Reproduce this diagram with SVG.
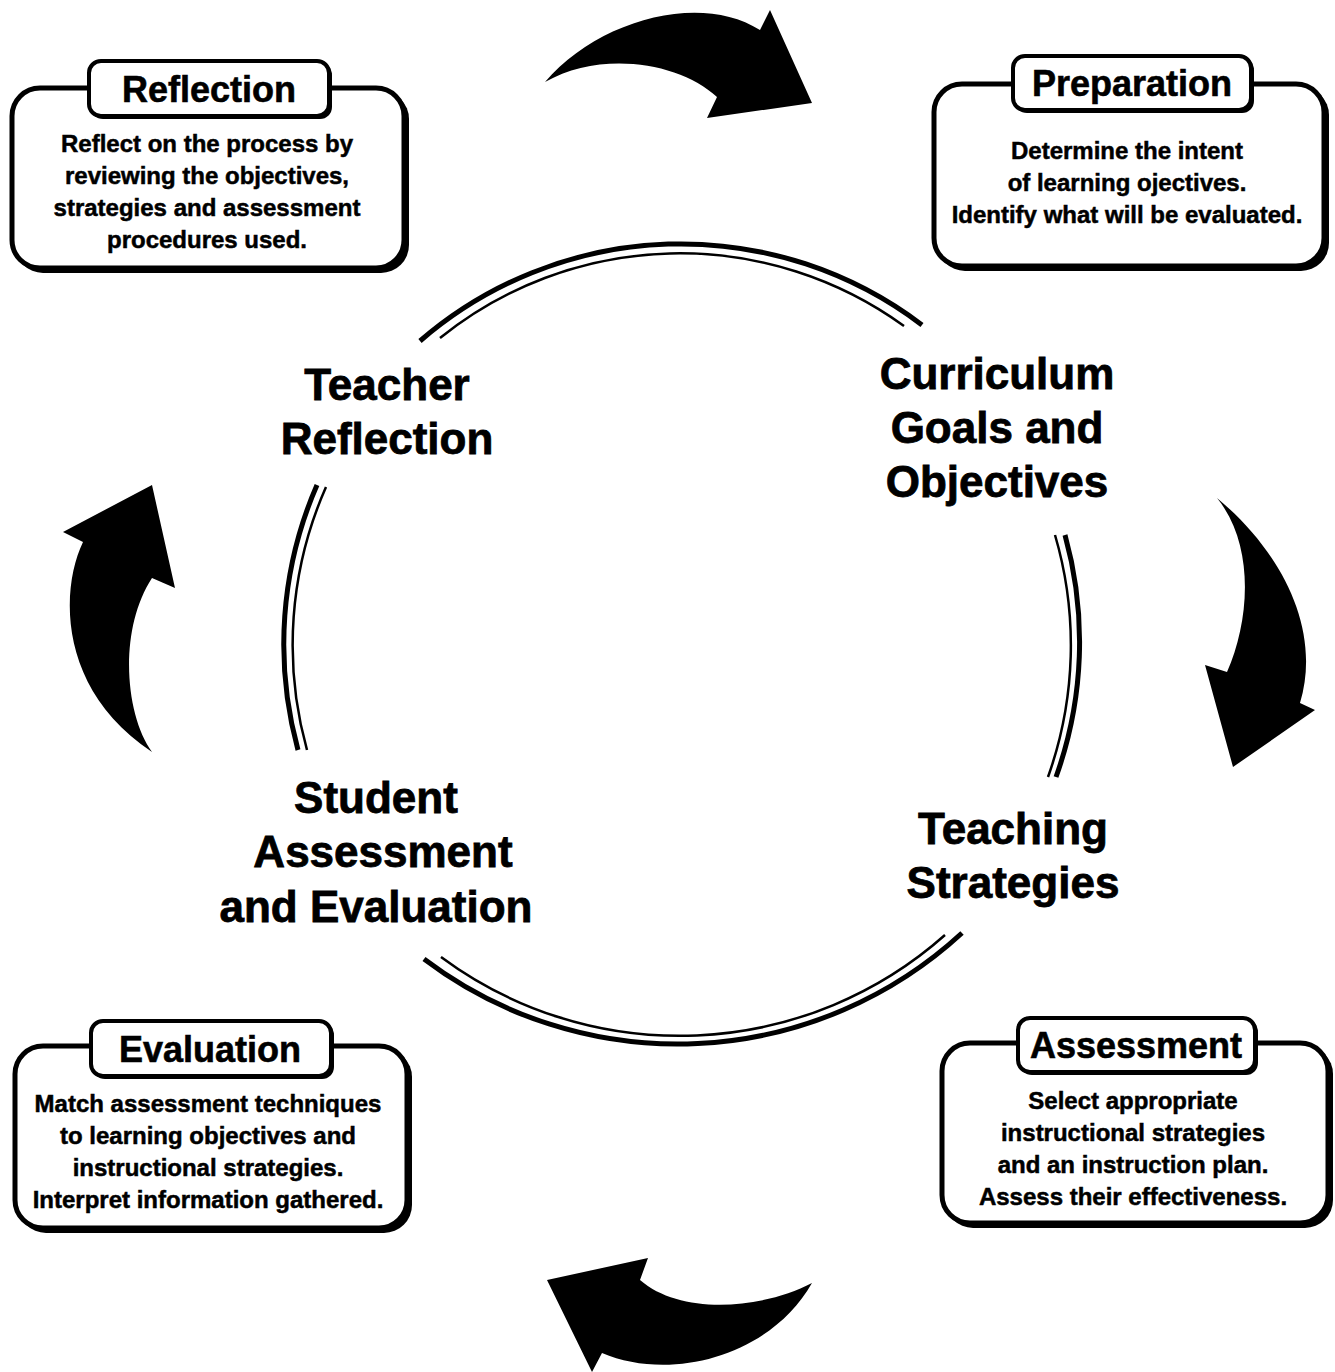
<svg xmlns="http://www.w3.org/2000/svg" width="1335" height="1372" viewBox="0 0 1335 1372">
<style>
.bg{fill:#fff}
.shadow{fill:#000}
.box{fill:#fff;stroke:#000;stroke-width:5}
.tab{fill:#fff;stroke:#000;stroke-width:4}
.title{font-family:"Liberation Sans",Arial,Helvetica,sans-serif;font-weight:bold;font-size:36px;text-anchor:middle;fill:#000;stroke:#000;stroke-width:0.6}
.body{font-family:"Liberation Sans",Arial,Helvetica,sans-serif;font-weight:bold;font-size:24px;text-anchor:middle;fill:#000;stroke:#000;stroke-width:0.5}
.big{font-family:"Liberation Sans",Arial,Helvetica,sans-serif;font-weight:bold;font-size:44px;text-anchor:middle;fill:#000;stroke:#000;stroke-width:0.8}
.arcO{fill:none;stroke:#000;stroke-width:5}
.arcI{fill:none;stroke:#000;stroke-width:2.5}
.arrow{fill:#000}
</style>
<rect class="bg" x="0" y="0" width="1335" height="1372"/>

<g id="connectors">
  <g id="cycle-arcs">
    <path class="arcO" d="M 420 341 A 399 399 0 0 1 922 325"/>
    <path class="arcI" d="M 440 338 A 382 382 0 0 1 904 326"/>
    <path class="arcO" d="M 1065 535 A 399 399 0 0 1 1056 777"/>
    <path class="arcI" d="M 1055 535 A 391 391 0 0 1 1048 777"/>
    <path class="arcO" d="M 424 959 A 420 420 0 0 0 962 933"/>
    <path class="arcI" d="M 441 957 A 400 400 0 0 0 945 935"/>
    <path class="arcO" d="M 317 485 A 399 399 0 0 0 298 750"/>
    <path class="arcI" d="M 326 487 A 391 391 0 0 0 307 750"/>
  </g>
  <g id="big-arrows">
    <path class="arrow" d="M 545 82 C 598 20 700 -8 760 30 L 770 10 L 812 103 L 707 118 L 717 97 C 680 62 600 50 545 82 Z"/>
    <path class="arrow" d="M 1217 498 C 1282 552 1322 630 1300 703 L 1315 710 L 1233 767 L 1205 665 L 1227 672 C 1250 620 1255 545 1217 498 Z"/>
    <path class="arrow" d="M 812 1283 C 770 1357 670 1382 602 1353 L 592 1372 L 547 1280 L 648 1258 L 640 1280 C 680 1315 760 1310 812 1283 Z"/>
    <path class="arrow" d="M 152 752 C 58 690 60 590 83 542 L 63 532 L 152 485 L 175 588 L 152 578 C 118 630 125 715 152 752 Z"/>
  </g>
</g>

<g id="teacher-reflection">
  <text class="big" x="387" y="400">Teacher</text>
  <text class="big" x="387" y="454">Reflection</text>
</g>
<g id="curriculum-goals">
  <text class="big" x="997" y="389">Curriculum</text>
  <text class="big" x="997" y="443">Goals and</text>
  <text class="big" x="997" y="497">Objectives</text>
</g>
<g id="teaching-strategies">
  <text class="big" x="1013" y="844">Teaching</text>
  <text class="big" x="1013" y="898">Strategies</text>
</g>
<g id="student-assessment">
  <text class="big" x="376" y="813">Student</text>
  <text class="big" x="383" y="867">Assessment</text>
  <text class="big" x="376" y="922">and Evaluation</text>
</g>

<g id="box-reflection">
  <rect class="shadow" x="15" y="91" width="394" height="182" rx="28"/>
  <rect class="box" x="12" y="88" width="392" height="180" rx="28"/>
  <rect class="shadow" x="91" y="63" width="241" height="56" rx="12"/>
  <rect class="tab" x="89" y="61" width="240" height="55" rx="12"/>
  <text class="title" x="209" y="102">Reflection</text>
  <text class="body" x="207" y="152">Reflect on the process by</text>
  <text class="body" x="207" y="184">reviewing the objectives,</text>
  <text class="body" x="207" y="216">strategies and assessment</text>
  <text class="body" x="207" y="248">procedures used.</text>
</g>

<g id="box-preparation">
  <rect class="shadow" x="937" y="87" width="392" height="184" rx="28"/>
  <rect class="box" x="934" y="84" width="390" height="182" rx="28"/>
  <rect class="shadow" x="1015" y="58" width="239" height="55" rx="12"/>
  <rect class="tab" x="1013" y="56" width="238" height="54" rx="12"/>
  <text class="title" x="1132" y="96">Preparation</text>
  <text class="body" x="1127" y="159">Determine the intent</text>
  <text class="body" x="1127" y="191">of learning ojectives.</text>
  <text class="body" x="1127" y="223">Identify what will be evaluated.</text>
</g>

<g id="box-evaluation">
  <rect class="shadow" x="18" y="1049" width="394" height="184" rx="28"/>
  <rect class="box" x="15" y="1046" width="392" height="182" rx="28"/>
  <rect class="shadow" x="93" y="1023" width="241" height="56" rx="12"/>
  <rect class="tab" x="91" y="1021" width="240" height="55" rx="12"/>
  <text class="title" x="210" y="1062">Evaluation</text>
  <text class="body" x="208" y="1112">Match assessment techniques</text>
  <text class="body" x="208" y="1144">to learning objectives and</text>
  <text class="body" x="208" y="1176">instructional strategies.</text>
  <text class="body" x="208" y="1208">Interpret information gathered.</text>
</g>

<g id="box-assessment">
  <rect class="shadow" x="945" y="1046" width="388" height="182" rx="28"/>
  <rect class="box" x="942" y="1043" width="386" height="180" rx="28"/>
  <rect class="shadow" x="1020" y="1020" width="238" height="55" rx="12"/>
  <rect class="tab" x="1018" y="1018" width="237" height="54" rx="12"/>
  <text class="title" x="1136" y="1058">Assessment</text>
  <text class="body" x="1133" y="1109">Select appropriate</text>
  <text class="body" x="1133" y="1141">instructional strategies</text>
  <text class="body" x="1133" y="1173">and an instruction plan.</text>
  <text class="body" x="1133" y="1205">Assess their effectiveness.</text>
</g>
</svg>
